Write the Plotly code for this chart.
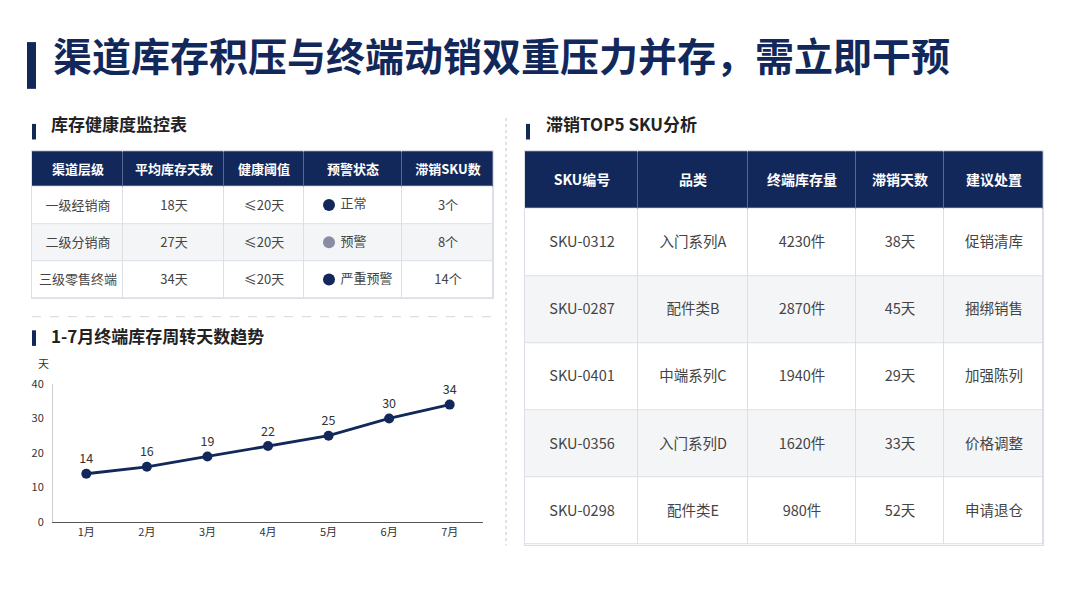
import plotly.graph_objects as go

W, H = 1080, 608
NAVY = "#13285a"
GRID = "#dcdfe5"
STRIPE = "#f4f5f7"
FONT = "Noto Sans CJK SC"

# ---- data ----
title_text = "渠道库存积压与终端动销双重压力并存，需立即干预"

health_header = ["渠道层级", "平均库存天数", "健康阈值", "预警状态", "滞销SKU数"]
channel_level = ["一级经销商", "二级分销商", "三级零售终端"]
avg_stock_days = ["18天", "27天", "34天"]
health_threshold = ["≤20天", "≤20天", "≤20天"]
warn_status = ["正常", "预警", "严重预警"]
warn_dot_color = [NAVY, "#8a8ca6", NAVY]
slow_sku_count = ["3个", "8个", "14个"]

months = ["1月", "2月", "3月", "4月", "5月", "6月", "7月"]
turnover_days = [14, 16, 19, 22, 25, 30, 34]

sku_header = ["SKU编号", "品类", "终端库存量", "滞销天数", "建议处置"]
sku_id = ["SKU-0312", "SKU-0287", "SKU-0401", "SKU-0356", "SKU-0298"]
sku_category = ["入门系列A", "配件类B", "中端系列C", "入门系列D", "配件类E"]
sku_stock = ["4230件", "2870件", "1940件", "1620件", "980件"]
sku_stale_days = ["38天", "45天", "29天", "33天", "52天"]
sku_action = ["促销清库", "捆绑销售", "加强陈列", "价格调整", "申请退仓"]


def xp(px):
    return px / W


def yp(py):
    return 1 - py / H


def cum(sizes):
    out = [0]
    for s in sizes:
        out.append(out[-1] + s)
    return out


shapes = []


def add_grid_table(fig, n, x_px, y_px, col_w, head_h, row_h, header, columns,
                   size, head_size, blank_cols=()):
    """Table drawn as a heatmap: header row + striped body rows,
    grid lines come from the cell gaps over a light backing rect."""
    nrows = len(columns[0])
    xe = cum(col_w)
    ye = cum([head_h] + [row_h] * nrows)
    z = [[2] * len(col_w)] + [[i % 2] * len(col_w) for i in range(nrows)]
    text = [[f'<span style="font-size:{head_size}px"><b>{h}</b></span>'
             for h in header]]
    for r in range(nrows):
        text.append(["" if c in blank_cols else columns[c][r]
                     for c in range(len(columns))])
    ax = "" if n == 1 else str(n)
    fig.add_trace(go.Heatmap(
        x=xe, y=ye, z=z, text=text, texttemplate="%{text}",
        textfont=dict(size=size, family=FONT),
        colorscale=[[0, "white"], [0.5, STRIPE], [1, NAVY]],
        zmin=0, zmax=2, showscale=False, hoverinfo="skip",
        xgap=1, ygap=1,
        xaxis="x" + ax, yaxis="y" + ax,
    ))
    shapes.append(dict(type="rect", xref="x" + ax, yref="y" + ax,
                       x0=0, x1=xe[-1], y0=ye[1], y1=ye[-1],
                       fillcolor=GRID, line_width=0, layer="below"))
    shapes.append(dict(type="rect", xref="x" + ax, yref="y" + ax,
                       x0=0, x1=xe[-1], y0=0, y1=ye[1],
                       fillcolor="#5a6890", line_width=0, layer="below"))
    axis_common = dict(showgrid=False, showline=True, mirror=True,
                       linecolor=GRID, linewidth=1, zeroline=False,
                       showticklabels=False, ticks="", layer="above traces",
                       fixedrange=True)
    fig.update_layout(**{
        "xaxis" + ax: dict(domain=[xp(x_px[0]), xp(x_px[1])],
                           range=[0, xe[-1]], anchor="y" + ax, **axis_common),
        "yaxis" + ax: dict(domain=[yp(y_px[1]), yp(y_px[0])],
                           range=[ye[-1], 0], anchor="x" + ax, **axis_common),
    })
    return xe, ye


fig = go.Figure()

# trend line (main axes)
fig.add_trace(go.Scatter(
    x=months, y=turnover_days,
    mode="lines+markers+text",
    line=dict(color=NAVY, width=2.8),
    marker=dict(color=NAVY, size=10),
    text=[str(v) for v in turnover_days],
    textposition="top center",
    textfont=dict(color="#333333", size=12.5, family=FONT),
    cliponaxis=False,
    hoverinfo="x+y",
))

# left table
lx, ly = add_grid_table(
    fig, 3, (32, 493), (146, 297), [91, 101, 80, 98, 91], 36, 38,
    health_header,
    [channel_level, avg_stock_days, health_threshold, warn_status,
     slow_sku_count],
    13, 13, blank_cols=(3,))

# status dots + labels in the 预警状态 column
fig.add_trace(go.Scatter(
    x=[lx[3] + 25] * len(warn_status),
    y=[(ly[i + 1] + ly[i + 2]) / 2 for i in range(len(warn_status))],
    mode="markers+text",
    marker=dict(color=warn_dot_color, size=12),
    text=["\u00a0" + s for s in warn_status], textposition="middle right",
    textfont=dict(size=13, color="#444444", family=FONT),
    hoverinfo="skip", xaxis="x3", yaxis="y3",
))

# right table
add_grid_table(
    fig, 4, (525, 1043), (146, 550), [113, 110, 108, 88, 99], 59, 69,
    sku_header,
    [sku_id, sku_category, sku_stock, sku_stale_days, sku_action], 14.5, 14)

fig.update_layout(
    width=W, height=H, autosize=False,
    margin=dict(l=0, r=0, t=0, b=0),
    paper_bgcolor="white", plot_bgcolor="white",
    font=dict(family=FONT, color="#333333"),
    showlegend=False,
    xaxis=dict(
        domain=[xp(53), xp(483)], range=[-0.55, 6.55],
        showline=True, linecolor="#555555", linewidth=1,
        showgrid=False, zeroline=False, ticks="",
        tickfont=dict(size=11, color="#333333"),
        fixedrange=True,
    ),
    yaxis=dict(
        domain=[yp(527), yp(385)], range=[0, 40],
        tickvals=[0, 10, 20, 30, 40],
        showline=True, linecolor="#cccccc", linewidth=1,
        showgrid=False, zeroline=False, ticks="",
        tickfont=dict(size=11, color="#333333"),
        ticklabelstandoff=6, fixedrange=True,
    ),
)

# title bar and section markers
shapes.append(dict(type="rect", xref="paper", yref="paper",
                   x0=xp(27), x1=xp(36), y0=yp(82), y1=yp(34),
                   fillcolor=NAVY, line_width=0))
for x0, y0 in [(32, 118), (526, 118), (32, 330)]:
    shapes.append(dict(type="rect", xref="paper", yref="paper",
                       x0=xp(x0), x1=xp(x0 + 4), y0=yp(y0 + 16), y1=yp(y0),
                       fillcolor=NAVY, line_width=0))
shapes.append(dict(type="line", xref="paper", yref="paper",
                   x0=xp(32), x1=xp(495), y0=yp(316), y1=yp(316),
                   line=dict(color="#d3d7de", width=1, dash="dash")))
shapes.append(dict(type="line", xref="paper", yref="paper",
                   x0=xp(506), x1=xp(506), y0=yp(112), y1=yp(551),
                   line=dict(color="#d3d7de", width=1.5, dash="dot")))
fig.update_layout(shapes=shapes)

annotations = [
    dict(text=f"<b>{title_text}</b>", x=xp(51), y=yp(46),
         font=dict(size=39, color=NAVY, family=FONT)),
    dict(text="<b>库存健康度监控表</b>", x=xp(49), y=yp(118),
         font=dict(size=17, color="#222222", family=FONT)),
    dict(text="<b>滞销TOP5 SKU分析</b>", x=xp(544), y=yp(118),
         font=dict(size=17, color="#222222", family=FONT)),
    dict(text="<b>1-7月终端库存周转天数趋势</b>", x=xp(49), y=yp(335),
         font=dict(size=17, color="#222222", family=FONT)),
    dict(text="天", x=xp(36), y=yp(364),
         font=dict(size=11, color="#333333", family=FONT)),
]
for a in annotations:
    a.update(xref="paper", yref="paper", xanchor="left", yanchor="middle",
             showarrow=False)
fig.update_layout(annotations=annotations)

fig.write_html("out.html", config={"displayModeBar": False},
               post_script="document.body.style.margin='0';")
